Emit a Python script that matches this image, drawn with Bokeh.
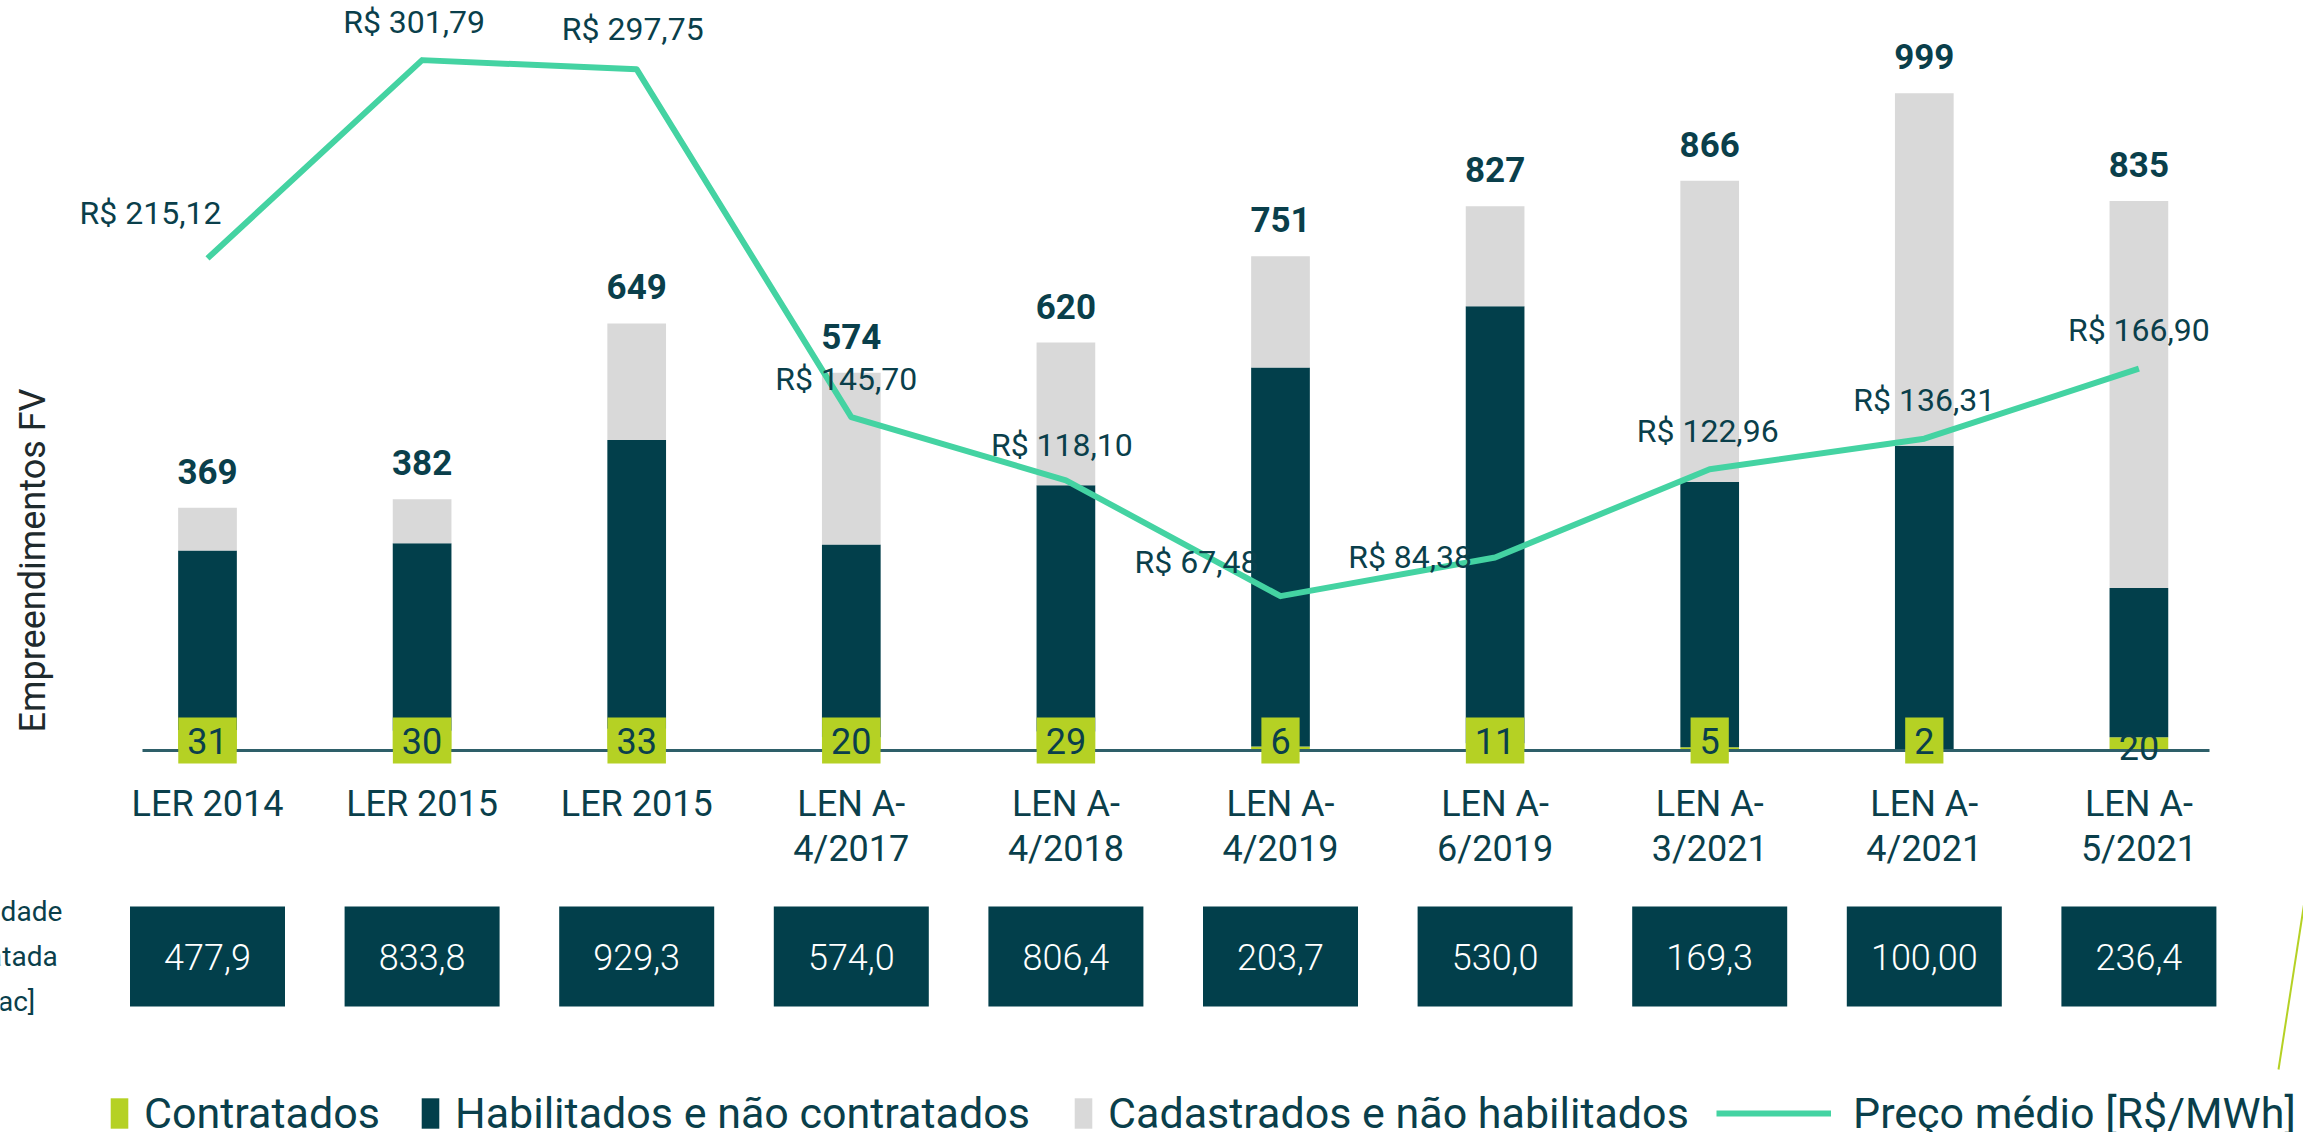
import numpy as np
from bokeh.plotting import figure
from bokeh.models import Range1d, Label, Legend, LegendItem, ColumnDataSource
from bokeh.core.properties import value
from bokeh.embed import file_html
from bokeh.resources import INLINE

# ---------------- data ----------------
categories = ["LER 2014", "LER 2015", "LER 2015", "LEN A-\n4/2017", "LEN A-\n4/2018",
              "LEN A-\n4/2019", "LEN A-\n6/2019", "LEN A-\n3/2021", "LEN A-\n4/2021", "LEN A-\n5/2021"]
contratados = [31, 30, 33, 20, 29, 6, 11, 5, 2, 20]
habilitados = [273, 285, 439, 293, 374, 576, 664, 403, 461, 227]
cadastrados = [65, 67, 177, 261, 217, 169, 152, 458, 536, 588]
totals = [369, 382, 649, 574, 620, 751, 827, 866, 999, 835]
preco = [215.12, 301.79, 297.75, 145.70, 118.10, 67.48, 84.38, 122.96, 136.31, 166.90]
preco_labels = ["R$ 215,12", "R$ 301,79", "R$ 297,75", "R$ 145,70", "R$ 118,10",
                "R$ 67,48", "R$ 84,38", "R$ 122,96", "R$ 136,31", "R$ 166,90"]
capacidade = ["477,9", "833,8", "929,3", "574,0", "806,4", "203,7", "530,0", "169,3", "100,00", "236,4"]

# ---------------- style / layout ----------------
TEAL = "#0A3F4B"
DARK = "#023F4B"
LIME = "#B5D124"
GRAY = "#D9D9D9"
MINT = "#44D3A2"
FONT = "Roboto"

W, H = 2303, 1132
BASE = 750.0          # canvas px (from top) of the zero line
K = 0.658             # px per bar unit
KP = 2.2876           # px per R$
STEP = 214.6          # px per category
X_FIRST = 207.0       # canvas px of first category centre

def x_of(px):
    return (px - X_FIRST) / STEP

def y_of(px):
    return (BASE - px) / K

idx = list(range(len(categories)))

p = figure(width=W, height=H, output_backend="svg", toolbar_location=None,
           x_range=Range1d(x_of(0), x_of(W)), y_range=Range1d(y_of(H), y_of(0)),
           x_axis_type=None, y_axis_type=None, min_border=0,
           outline_line_color=None, background_fill_color="white")
p.grid.visible = False
p.extra_y_ranges = {"price": Range1d(-(H - BASE) / KP, BASE / KP)}

src = ColumnDataSource(dict(x=idx, c=contratados, h=habilitados, k=cadastrados,
                            total=totals, tl=[str(t) for t in totals], cat=categories,
                            price=preco, cap=capacidade))

bars = p.vbar_stack(["c", "h", "k"], x="x", width=58.7 / STEP, color=[LIME, DARK, GRAY],
                    line_color=None, source=src)

# baseline
p.segment(x0=[x_of(142)], y0=[0], x1=[x_of(2209)], y1=[0], line_color="#2E5F69", line_width=3)

# price line
pline = p.line(x="x", y="price", y_range_name="price", source=src, line_color=MINT,
               line_width=6, line_join="round")

# totals
p.text(x="x", y="total", text="tl", source=src, text_align="center", text_baseline="bottom",
       y_offset=-24, text_font=value(FONT), text_font_style="bold", text_font_size="35px",
       text_color=TEAL)

# category labels
p.text(x="x", y=0, text="cat", source=src, text_align="center", text_baseline="top",
       y_offset=32, text_font=value(FONT), text_font_size="36px", text_color=TEAL,
       text_line_height=1.08)

# capacity boxes
p.rect(x="x", y=y_of(956), width=155, height=100, width_units="screen", height_units="screen",
       fill_color=DARK, line_color=None, source=src)
p.text(x="x", y=y_of(956), text="cap", source=src, text_align="center", text_baseline="middle",
       text_font=value("Roboto Light"), text_font_size="36px", text_color="white")

# price labels
pdx = [-57, -8, -4, -5, -4, -84, -85, -2, 0, 0]
pdy = [45, 38, 40, 38, 35, 34, 0, 38, 39, 39]
for i, (v, t) in enumerate(zip(preco, preco_labels)):
    p.add_layout(Label(x=i, y=v, y_range_name="price", text=t, x_offset=pdx[i], y_offset=pdy[i],
                       text_align="center", text_baseline="middle", text_font=FONT,
                       text_font_size="32px", text_color=TEAL))

# contratados labels
bg = [LIME] * 9 + [None]
cy = [10] * 9 + [4]
for i, v in enumerate(contratados):
    p.add_layout(Label(x=i, y=0, text=str(v), y_offset=cy[i], text_align="center",
                       text_baseline="middle", text_font=FONT, text_font_size="36px",
                       text_color=TEAL, background_fill_color=bg[i],
                       padding=dict(left=9, right=9, top=10, bottom=10)))

# axis title
p.add_layout(Label(x=32, y=H - 560, x_units="screen", y_units="screen", text="Empreendimentos FV",
                   angle=np.pi / 2, text_align="center", text_baseline="middle", text_font=FONT,
                   text_font_size="36px", text_color="#1E2A2D"))

# cut-off row title (centred left of the page edge, as in the reference)
p.add_layout(Label(x=-12, y=H - 956, x_units="screen", y_units="screen",
                   text="Capacidade\nContratada\n[MWac]", text_align="center", text_baseline="middle",
                   text_font=FONT, text_font_size="28px", text_color=TEAL, text_line_height=1.37))

# decorative lime stroke
p.segment(x0=[x_of(2306)], y0=[y_of(888)], x1=[x_of(2278)], y1=[y_of(1069)], line_color=LIME,
          line_width=2)

# legends
def add_legend(label, rend, x, gw, gh, standoff):
    lg = Legend(items=[LegendItem(label=value(label), renderers=[rend])], location=(x, -6),
                orientation="horizontal", glyph_width=gw, glyph_height=gh, label_standoff=standoff,
                padding=0, margin=0, spacing=0, border_line_color=None, background_fill_alpha=0,
                label_text_font=FONT, label_text_font_size="43px", label_text_color=TEAL,
                label_text_baseline="middle")
    p.add_layout(lg)

add_legend("Contratados", bars[0], 108, 22, 38, 14)
add_legend("Habilitados e não contratados", bars[1], 419, 22, 38, 14)
add_legend("Cadastrados e não habilitados", bars[2], 1072, 22, 38, 14)
add_legend("Preço médio [R$/MWh]", pline, 1716, 115, 38, 22)

open("out.html", "w").write(file_html(p, INLINE))
